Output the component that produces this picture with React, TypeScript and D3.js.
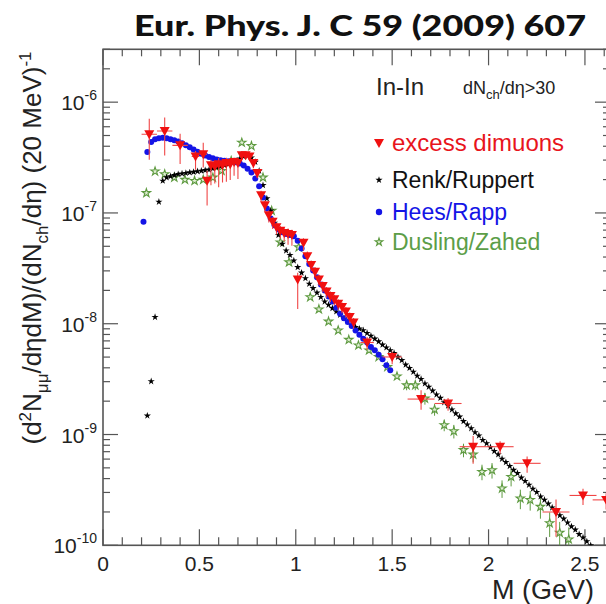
import * as d3 from "d3";

// NA60 In-In, dN_ch/deta > 30 : excess dimuons vs. model curves
// all yields are stored as log10 of (d2N/detadM)/(dNch/deta) per 20 MeV

const excessMass = [0.24, 0.32, 0.4, 0.48, 0.52, 0.54, 0.56, 0.58, 0.6, 0.62, 0.64, 0.66, 0.68, 0.7, 0.72, 0.74, 0.76, 0.78, 0.8, 0.82, 0.84, 0.86, 0.88, 0.9, 0.92, 0.94, 0.96, 0.98, 1.01, 1.04, 1.06, 1.08, 1.1, 1.12, 1.14, 1.16, 1.18, 1.2, 1.22, 1.24, 1.26, 1.28, 1.3, 1.37, 1.5, 1.65, 1.79, 1.92, 2.06, 2.2, 2.35, 2.49, 2.61];
const excessLog = [-6.29, -6.26, -6.39, -6.49, -6.47, -6.71, -6.57, -6.58, -6.56, -6.57, -6.55, -6.56, -6.54, -6.55, -6.48, -6.48, -6.49, -6.55, -6.64, -6.84, -6.93, -7.02, -7.08, -7.13, -7.16, -7.18, -7.19, -7.2, -7.6, -7.27, -7.39, -7.47, -7.53, -7.6, -7.66, -7.71, -7.75, -7.78, -7.82, -7.85, -7.89, -7.94, -7.99, -8.17, -8.3, -8.68, -8.72, -9.11, -9.11, -9.26, -9.7, -9.55, -9.59];
const excessErrUp = [0.38, 0.32, 0.27, 0.12, 0.27, 0.23, 0.12, 0.12, 0.14, 0.12, 0.12, 0.1, 0.1, 0.1, 0.06, 0.06, 0.06, 0.08, 0.08, 0.1, 0.1, 0.1, 0.1, 0.1, 0.1, 0.1, 0.12, 0.12, 0.15, 0.1, 0.1, 0.1, 0.1, 0.1, 0.1, 0.1, 0.1, 0.1, 0.1, 0.1, 0.1, 0.1, 0.1, 0.12, 0.12, 0.2, 0.12, 0.25, 0.12, 0.15, 0.3, 0.15, 0.15];
const excessErrDown = [0.41, 0.4, 0.32, 0.24, 0.24, 0.4, 0.34, 0.3, 0.38, 0.3, 0.32, 0.28, 0.25, 0.28, 0.08, 0.08, 0.08, 0.1, 0.1, 0.12, 0.12, 0.14, 0.14, 0.14, 0.15, 0.16, 0.2, 0.2, 0.46, 0.15, 0.12, 0.12, 0.12, 0.12, 0.12, 0.12, 0.12, 0.12, 0.12, 0.12, 0.12, 0.12, 0.12, 0.14, 0.14, 0.2, 0.14, 0.3, 0.14, 0.18, 0.4, 0.18, 0.18];
const excessHalfBin = [0.04, 0.04, 0.04, 0.02, 0.02, 0.01, 0.01, 0.01, 0.01, 0.01, 0.01, 0.01, 0.01, 0.01, 0.01, 0.01, 0.01, 0.01, 0.01, 0.01, 0.01, 0.01, 0.01, 0.01, 0.01, 0.01, 0.01, 0.01, 0.01, 0.01, 0.01, 0.01, 0.01, 0.01, 0.01, 0.01, 0.01, 0.01, 0.01, 0.01, 0.01, 0.01, 0.01, 0.035, 0.05, 0.07, 0.07, 0.07, 0.07, 0.07, 0.07, 0.07, 0.07];

const renkMass = [0.23, 0.25, 0.27, 0.29, 0.31, 0.33, 0.35, 0.37, 0.39, 0.41, 0.43, 0.45, 0.47, 0.49, 0.51, 0.53, 0.55, 0.57, 0.59, 0.61, 0.63, 0.65, 0.67, 0.69, 0.71, 0.73, 0.75, 0.77, 0.79, 0.81, 0.83, 0.85, 0.87, 0.89, 0.91, 0.93, 0.95, 0.97, 0.99, 1.01, 1.03, 1.05, 1.07, 1.09, 1.11, 1.13, 1.15, 1.17, 1.19, 1.21, 1.23, 1.25, 1.27, 1.29, 1.31, 1.33, 1.35, 1.37, 1.39, 1.41, 1.43, 1.45, 1.47, 1.49, 1.51, 1.53, 1.55, 1.57, 1.59, 1.61, 1.63, 1.65, 1.67, 1.69, 1.71, 1.73, 1.75, 1.77, 1.79, 1.81, 1.83, 1.85, 1.87, 1.89, 1.91, 1.93, 1.95, 1.97, 1.99, 2.01, 2.03, 2.05, 2.07, 2.09, 2.11, 2.13, 2.15, 2.17, 2.19, 2.21, 2.23, 2.25, 2.27, 2.29, 2.31, 2.33, 2.35, 2.37, 2.39, 2.41, 2.43, 2.45, 2.47, 2.49, 2.51, 2.53];
const renkLog = [-8.83, -8.52, -7.94, -6.9, -6.71, -6.68, -6.67, -6.66, -6.65, -6.645, -6.64, -6.635, -6.63, -6.625, -6.62, -6.615, -6.61, -6.6, -6.59, -6.58, -6.57, -6.56, -6.545, -6.53, -6.51, -6.49, -6.485, -6.5, -6.54, -6.62, -6.75, -6.87, -6.98, -7.09, -7.2, -7.28, -7.34, -7.38, -7.43, -7.49, -7.54, -7.59, -7.64, -7.68, -7.72, -7.76, -7.8, -7.83, -7.86, -7.89, -7.92, -7.95, -7.98, -8.01, -8.03, -8.045, -8.06, -8.085, -8.11, -8.135, -8.16, -8.19, -8.215, -8.24, -8.265, -8.3, -8.33, -8.37, -8.4, -8.435, -8.47, -8.5, -8.54, -8.57, -8.605, -8.64, -8.67, -8.71, -8.74, -8.775, -8.81, -8.84, -8.88, -8.91, -8.945, -8.98, -9.01, -9.05, -9.08, -9.115, -9.15, -9.18, -9.22, -9.25, -9.285, -9.32, -9.35, -9.39, -9.42, -9.455, -9.49, -9.52, -9.56, -9.59, -9.625, -9.66, -9.69, -9.73, -9.76, -9.795, -9.83, -9.86, -9.9, -9.93, -9.965, -10.0];

const heesMass = [0.21, 0.23, 0.25, 0.27, 0.29, 0.31, 0.33, 0.35, 0.37, 0.39, 0.41, 0.43, 0.45, 0.47, 0.49, 0.51, 0.53, 0.55, 0.57, 0.59, 0.61, 0.63, 0.65, 0.67, 0.69, 0.71, 0.73, 0.75, 0.77, 0.79, 0.81, 0.83, 0.85, 0.87, 0.89, 0.91, 0.93, 0.95, 0.97, 0.99, 1.01, 1.03, 1.05, 1.07, 1.09, 1.11, 1.13, 1.15, 1.17, 1.19, 1.21, 1.23, 1.25, 1.27, 1.29, 1.31, 1.33, 1.35, 1.37, 1.39, 1.41, 1.43, 1.45, 1.47, 1.49];
const heesLog = [-7.08, -6.45, -6.36, -6.335, -6.325, -6.322, -6.326, -6.334, -6.343, -6.355, -6.37, -6.388, -6.407, -6.427, -6.448, -6.466, -6.482, -6.495, -6.507, -6.517, -6.525, -6.53, -6.534, -6.538, -6.543, -6.553, -6.572, -6.6, -6.635, -6.69, -6.76, -6.86, -6.96, -7.05, -7.11, -7.15, -7.175, -7.19, -7.2, -7.21, -7.25, -7.32, -7.39, -7.46, -7.52, -7.58, -7.645, -7.7, -7.755, -7.8, -7.855, -7.91, -7.95, -7.985, -8.02, -8.06, -8.1, -8.135, -8.17, -8.21, -8.24, -8.28, -8.32, -8.375, -8.42];

const duslingMass = [0.225, 0.27, 0.32, 0.37, 0.425, 0.475, 0.52, 0.57, 0.615, 0.665, 0.72, 0.77, 0.83, 0.875, 0.92, 0.965, 1.015, 1.075, 1.12, 1.17, 1.22, 1.275, 1.325, 1.38, 1.43, 1.475, 1.525, 1.575, 1.62, 1.67, 1.72, 1.77, 1.82, 1.87, 1.92, 1.966, 2.018, 2.07, 2.117, 2.165, 2.216, 2.269, 2.317, 2.369, 2.416];
const duslingLog = [-6.82, -6.625, -6.65, -6.68, -6.7, -6.71, -6.7, -6.68, -6.62, -6.53, -6.365, -6.395, -6.68, -6.98, -7.265, -7.445, -7.31, -7.76, -7.87, -7.98, -8.06, -8.145, -8.195, -8.24, -8.3, -8.39, -8.475, -8.555, -8.555, -8.675, -8.775, -8.915, -8.97, -9.14, -9.18, -9.337, -9.322, -9.486, -9.382, -9.577, -9.59, -9.652, -9.8, -9.886, -9.946];
const duslingErr = [0, 0, 0, 0, 0, 0, 0, 0, 0, 0, 0, 0, 0, 0, 0, 0, 0, 0, 0, 0, 0, 0, 0, 0, 0, 0, 0, 0.1, 0.1, 0.12, 0.12, 0.12, 0.14, 0.14, 0.15, 0.16, 0.16, 0.18, 0.18, 0.2, 0.2, 0.22, 0.25, 0.25, 0.28];

const xTickLabels = ["0", "0.5", "1", "1.5", "2", "2.5"];
const yTickExponents = ["-10", "-9", "-8", "-7", "-6"];
const legendLabels = ["excess dimuons", "Renk/Ruppert", "Hees/Rapp", "Dusling/Zahed"];

const RED = "#f01010";
const BLUE = "#1414e6";
const GREEN = "#5e9a40";
const AXIS = "#555";

const x = d3.scaleLinear().domain([0, 2.63]).range([103, 610]);
const y = d3.scaleLog().domain([1e-10, 3e-6]).range([545.3, 49.3]);
const ly = (v: number) => y(Math.pow(10, v));

const starPath = d3.symbol(d3.symbolStar, 16)() as string;
const openStarPath = d3.symbol(d3.symbolStar, 22)() as string;
const legendOpenStar = d3.symbol(d3.symbolStar, 18)() as string;
const downTriangle = "M-5,-4L5,-4L0,5Z";

const App = () => {
  const [x0, x1] = x.range();
  const [yb, yt] = y.range();

  // minor ticks every 0.1 GeV, majors every 0.5
  const xMinor = d3
    .range(0, 27)
    .filter((i) => i % 5 !== 0)
    .map((i) => i / 10)
    .filter((v) => v <= 2.63);
  const xMajor = xTickLabels.map(Number);

  const yMinor: number[] = [];
  yTickExponents.forEach((e) => {
    for (let m = 2; m <= 9; m++) {
      const v = m * Math.pow(10, +e);
      if (v <= 3.01e-6) yMinor.push(v);
    }
  });

  const font = "'Liberation Sans', Arial, sans-serif";

  return (
    <svg
      width={606}
      height={604}
      style={{ position: "absolute", left: 0, top: 0, background: "#fff" }}
      fontFamily={font}
    >
      <defs>
        <clipPath id="plot">
          <rect x={x0} y={yt} width={x1 - x0} height={yb - yt} />
        </clipPath>
      </defs>
      <rect width={606} height={604} fill="#fff" />

      {/* title */}
      <text
        x={134}
        y={36}
        fontFamily="Lato, 'DejaVu Sans', sans-serif"
        fontWeight={900}
        fontSize={28}
        textLength={452}
        lengthAdjust="spacingAndGlyphs"
        fill="#111"
      >
        Eur. Phys. J. C 59 (2009) 607
      </text>

      {/* ticks */}
      <g stroke={AXIS} strokeWidth={1.2}>
        {xMajor.map((v) => (
          <g key={"xM" + v}>
            <line x1={x(v)} x2={x(v)} y1={yb} y2={yb - 16} />
            <line x1={x(v)} x2={x(v)} y1={yt} y2={yt + 16} />
          </g>
        ))}
        {xMinor.map((v) => (
          <g key={"xm" + v}>
            <line x1={x(v)} x2={x(v)} y1={yb} y2={yb - 8} />
            <line x1={x(v)} x2={x(v)} y1={yt} y2={yt + 7} />
          </g>
        ))}
        {yTickExponents.map((e) => (
          <g key={"yM" + e}>
            <line x1={x0} x2={x0 + 15} y1={ly(+e)} y2={ly(+e)} />
            <line x1={x1} x2={x1 - 15} y1={ly(+e)} y2={ly(+e)} />
          </g>
        ))}
        {yMinor.map((v, i) => (
          <g key={"ym" + i}>
            <line x1={x0} x2={x0 + 7} y1={y(v)} y2={y(v)} />
            <line x1={x1} x2={x1 - 7} y1={y(v)} y2={y(v)} />
          </g>
        ))}
      </g>
      <rect
        x={x0}
        y={yt}
        width={x1 - x0}
        height={yb - yt}
        fill="none"
        stroke={AXIS}
        strokeWidth={1.6}
      />

      {/* tick labels */}
      {xTickLabels.map((t) => (
        <text key={t} x={x(+t)} y={571} fontSize={21} textAnchor="middle" fill="#222">
          {t}
        </text>
      ))}
      {yTickExponents.map((e) => (
        <text key={e} x={97} y={ly(+e) + 8} fontSize={21} textAnchor="end" fill="#222">
          10
          <tspan fontSize={14} dy={-10}>
            {e}
          </tspan>
        </text>
      ))}

      {/* axis titles */}
      <text x={594} y={599} fontSize={27} textAnchor="end" fill="#222">
        M (GeV)
      </text>
      <text transform="translate(41,248) rotate(-90)" fontSize={26} textAnchor="middle" fill="#222">
        (d
        <tspan fontSize={17} dy={-10}>2</tspan>
        <tspan dy={10}>N</tspan>
        <tspan fontSize={17} dy={7}>μμ</tspan>
        <tspan dy={-7}>/dηdM)/(dN</tspan>
        <tspan fontSize={17} dy={7}>ch</tspan>
        <tspan dy={-7}>/dη) (20 MeV)</tspan>
        <tspan fontSize={17} dy={-10}>-1</tspan>
      </text>

      {/* data */}
      <g clipPath="url(#plot)">
        {duslingMass.map((m, i) => {
          if (!duslingErr[i]) return null;
          const v = Math.pow(10, duslingLog[i]);
          return (
            <line
              key={"dze" + i}
              x1={x(m)}
              x2={x(m)}
              y1={y(v * (1 + duslingErr[i]))}
              y2={y(v * (1 - duslingErr[i]))}
              stroke={GREEN}
              strokeWidth={1}
            />
          );
        })}
        {duslingMass.map((m, i) => (
          <path
            key={"dz" + i}
            d={openStarPath}
            transform={`translate(${x(m)},${ly(duslingLog[i])})`}
            fill="#dfeed3"
            stroke={GREEN}
            strokeWidth={1.1}
          />
        ))}
        {renkMass.map((m, i) => (
          <path key={"rr" + i} d={starPath} transform={`translate(${x(m)},${ly(renkLog[i])})`} fill="#000" />
        ))}
        {heesMass.map((m, i) => (
          <circle key={"hr" + i} cx={x(m)} cy={ly(heesLog[i])} r={3} fill={BLUE} />
        ))}
        {excessMass.map((m, i) => {
          const v = Math.pow(10, excessLog[i]);
          const cy = y(v);
          return (
            <g key={"ex" + i} stroke="#f04646" strokeWidth={1.1}>
              <line x1={x(m)} x2={x(m)} y1={y(v * (1 + excessErrUp[i]))} y2={y(v * (1 - excessErrDown[i]))} />
              <line x1={x(m - excessHalfBin[i])} x2={x(m + excessHalfBin[i])} y1={cy} y2={cy} />
            </g>
          );
        })}
        {excessMass.map((m, i) => (
          <path key={"ext" + i} d={downTriangle} transform={`translate(${x(m)},${ly(excessLog[i])})`} fill={RED} />
        ))}
      </g>

      {/* legend */}
      <text x={376} y={95} fontSize={24} fill="#222">
        In-In
      </text>
      <text x={463} y={94} fontSize={18} fill="#222">
        dN
        <tspan fontSize={13} dy={5}>ch</tspan>
        <tspan dy={-5}>/dη&gt;30</tspan>
      </text>
      <path d={downTriangle} transform="translate(379,143)" fill={RED} />
      <path d={starPath} transform="translate(379,180)" fill="#000" />
      <circle cx={379} cy={212} r={3.2} fill={BLUE} />
      <path d={legendOpenStar} transform="translate(379,242)" fill="#dfeed3" stroke={GREEN} strokeWidth={1.1} />
      <text x={392} y={151} fontSize={24} fill="#e8141c">
        {legendLabels[0]}
      </text>
      <text x={392} y={188} fontSize={23} fill="#111">
        {legendLabels[1]}
      </text>
      <text x={392} y={220} fontSize={23} fill={BLUE}>
        {legendLabels[2]}
      </text>
      <text x={392} y={250} fontSize={23} fill="#5c9e48">
        {legendLabels[3]}
      </text>
    </svg>
  );
};

export default App;
